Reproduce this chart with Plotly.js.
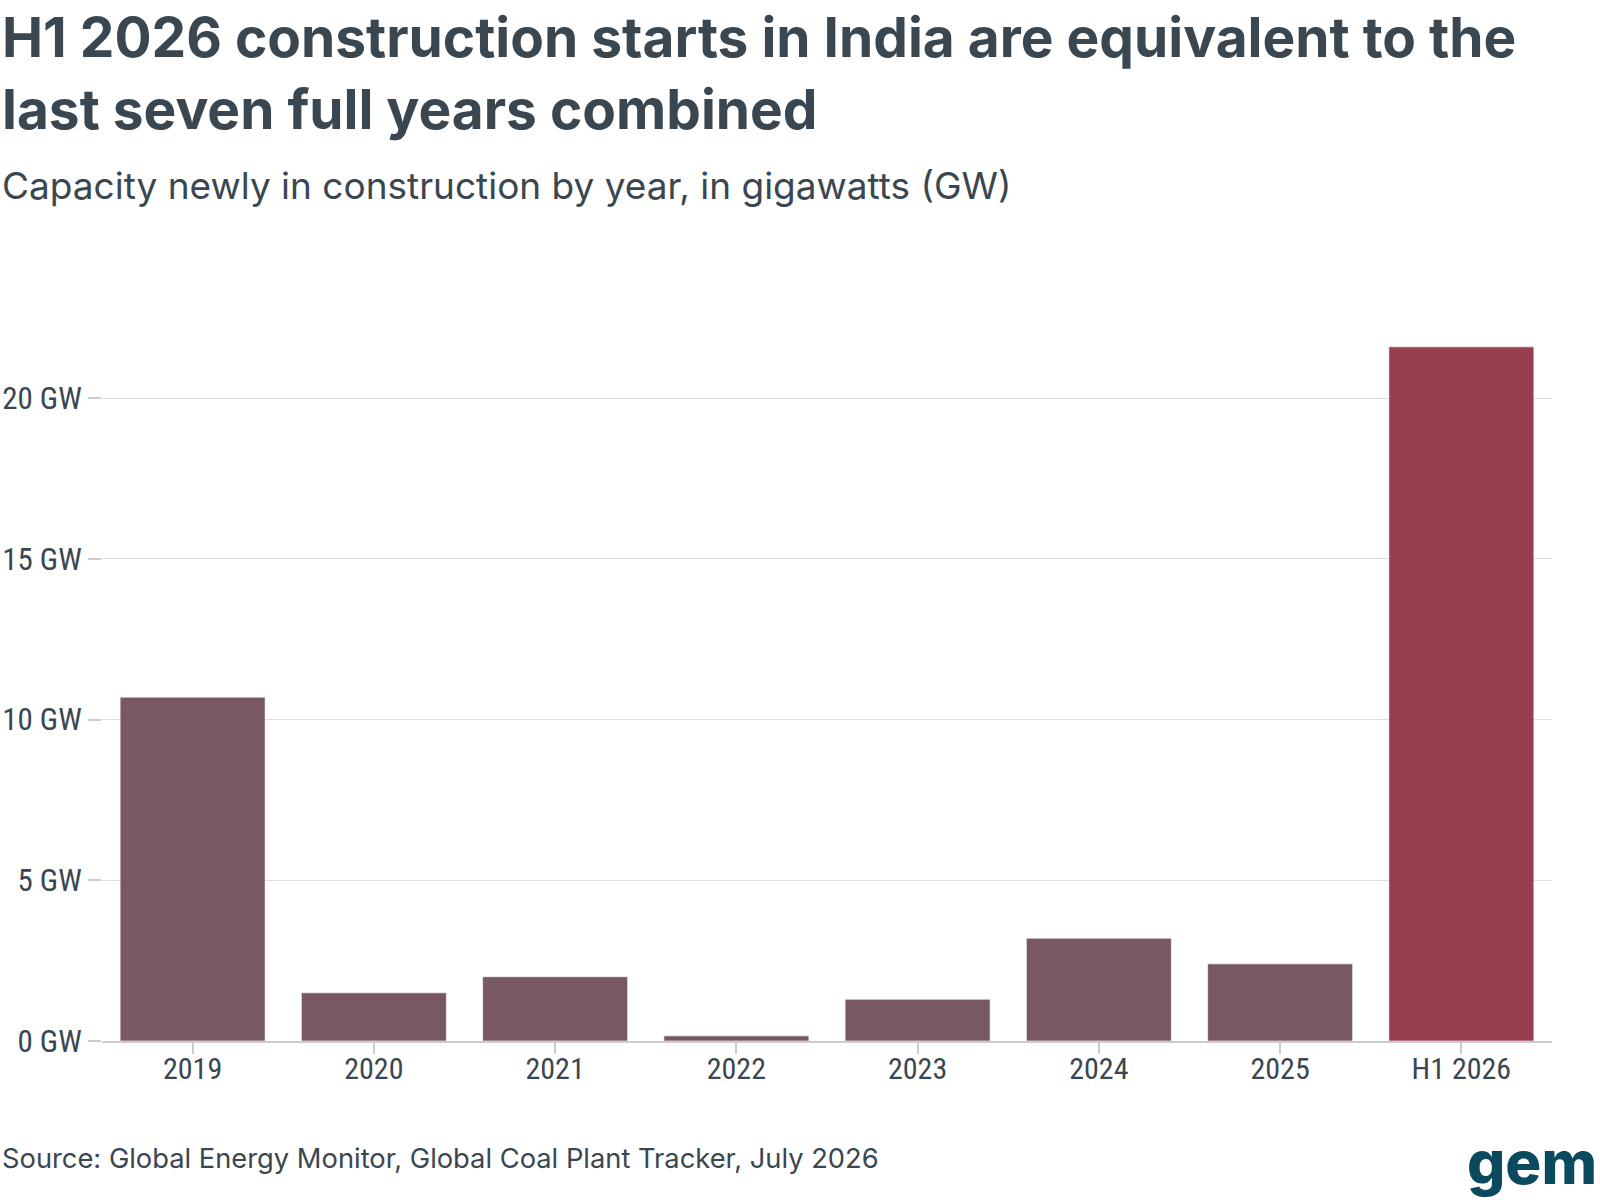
<!DOCTYPE html>
<html>
<head>
<meta charset="utf-8">
<script src="https://cdn.plot.ly/plotly-3.0.1.min.js"></script>
<style>
  body { margin: 0; background: #fff; }
</style>
</head>
<body>
<div id="chart" style="width:1600px;height:1200px;"></div>
<script>
// capacity newly in construction, GW
var years = ["2019", "2020", "2021", "2022", "2023", "2024", "2025", "H1 2026"];
var capacityGW = [10.7, 1.5, 2.0, 0.16, 1.3, 3.2, 2.4, 21.6];
var yTicks = [0, 5, 10, 15, 20];
var yTickText = yTicks.map(function (v) { return v + " GW"; });

var slate = "#3a4750";
var barColors = years.map(function (y) {
  return y === "H1 2026" ? "#8c2a3d" : "#6b4851";
});
var tickFamily = "'Roboto Condensed', 'DejaVu Sans Condensed', sans-serif";

// plot area in pixels, used to place the text around it
var L = 102, R = 48, T = 334, B = 159;
var W = 1600 - L - R, H = 1200 - T - B;
function px(x) { return (x - L) / W; }
function py(y) { return (1200 - B - y) / H; }

var data = [{
  type: "bar",
  x: years,
  y: capacityGW,
  opacity: 0.9,
  marker: {
    color: barColors,
    line: { color: "rgba(255,255,255,0.6)", width: 1 }
  },
  hoverinfo: "x+y"
}];

var layout = {
  width: 1600,
  height: 1200,
  margin: { l: L, r: R, t: T, b: B },
  paper_bgcolor: "#fff",
  plot_bgcolor: "#fff",
  showlegend: false,
  bargap: 0.2,
  font: { family: "Inter, 'Noto Sans', sans-serif", color: slate },
  xaxis: {
    type: "category",
    showgrid: false,
    showline: true,
    linecolor: "#cccccc",
    linewidth: 2,
    ticks: "outside",
    ticklen: 11,
    tickwidth: 2,
    tickcolor: "#cccccc",
    ticklabelstandoff: -11,
    tickfont: { family: tickFamily, size: 30, color: slate }
  },
  yaxis: {
    range: [0, 22],
    tickmode: "array",
    tickvals: yTicks,
    ticktext: yTickText,
    showgrid: true,
    gridcolor: "#dddddd",
    gridwidth: 1,
    zeroline: false,
    showline: false,
    ticks: "outside",
    ticklen: 13,
    tickwidth: 2,
    tickcolor: "#cccccc",
    tickfont: { family: tickFamily, size: 31, color: slate }
  },
  annotations: [
    {
      text: "H1 2026 construction starts in India are equivalent to the<br>last seven full years combined",
      xref: "paper", yref: "paper",
      x: px(0), y: py(2),
      xanchor: "left", yanchor: "top", align: "left",
      showarrow: false,
      font: { family: "Inter, sans-serif", size: 55, weight: 700, color: slate }
    },
    {
      text: "Capacity newly in construction by year, in gigawatts (GW)",
      xref: "paper", yref: "paper",
      x: px(0), y: py(161),
      xanchor: "left", yanchor: "top", align: "left",
      showarrow: false,
      font: { family: "Inter, sans-serif", size: 37, color: slate }
    },
    {
      text: "Source: Global Energy Monitor, Global Coal Plant Tracker, July 2026",
      xref: "paper", yref: "paper",
      x: px(0), y: py(1140),
      xanchor: "left", yanchor: "top", align: "left",
      showarrow: false,
      font: { family: "Inter, sans-serif", size: 27.3, color: slate }
    },
    {
      text: "gem",
      xref: "paper", yref: "paper",
      x: px(1599), y: py(1200),
      xanchor: "right", yanchor: "bottom",
      showarrow: false,
      font: { family: "Inter, sans-serif", size: 60, weight: 800, color: "#0b4a5e" }
    }
  ]
};

Plotly.newPlot("chart", data, layout, { displayModeBar: false, staticPlot: true });
</script>
</body>
</html>
